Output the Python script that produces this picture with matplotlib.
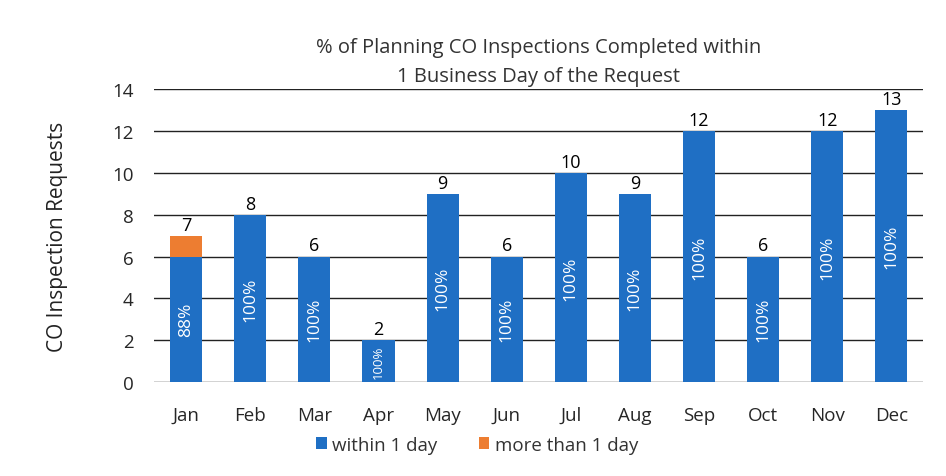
import matplotlib.pyplot as plt
import numpy as np

months = ["Jan", "Feb", "Mar", "Apr", "May", "Jun", "Jul", "Aug", "Sep", "Oct", "Nov", "Dec"]
within_1_day = [6, 8, 6, 2, 9, 6, 10, 9, 12, 6, 12, 13]
more_than_1_day = [1, 0, 0, 0, 0, 0, 0, 0, 0, 0, 0, 0]
pct_labels = ["88%", "100%", "100%", "100%", "100%", "100%", "100%", "100%", "100%", "100%", "100%", "100%"]

plt.rcParams['font.family'] = ['Open Sans', 'DejaVu Sans']

blue = "#1f6fc4"
orange = "#ed7d31"

fig = plt.figure(figsize=(9.46, 4.77), dpi=100)
ax = fig.add_axes([0.163, 0.197, 0.813, 0.614])

x = np.arange(len(months))
totals = [a + b for a, b in zip(within_1_day, more_than_1_day)]

ax.bar(x, within_1_day, width=0.5, color=blue, label="within 1 day", zorder=3)
ax.bar(x, more_than_1_day, width=0.5, bottom=within_1_day, color=orange,
       label="more than 1 day", zorder=3)

for i in range(len(months)):
    ax.text(x[i], totals[i] + 0.1, str(totals[i]), ha='center', va='bottom', fontsize=13, color='black')
    fs = 12.5 if within_1_day[i] > 2 else 9.5
    ax.text(x[i], within_1_day[i] / 2, pct_labels[i], ha='center', va='center', rotation=90,
            fontsize=fs, color='white', zorder=4)

ax.set_xlim(-0.5, 11.5)
ax.set_ylim(0, 14)
ax.set_yticks(range(0, 15, 2))
ax.set_xticks(x)
ax.set_xticklabels(months)
ax.tick_params(axis='both', length=0, labelsize=13.5, colors='#262626')
ax.tick_params(axis='y', pad=15)
ax.tick_params(axis='x', pad=17)
ax.yaxis.grid(True, color='#222222', linewidth=1)
ax.set_axisbelow(True)
for s in ax.spines.values():
    s.set_visible(False)

ax.set_ylabel("CO Inspection Requests", fontsize=15, color='#222222')
ax.yaxis.set_label_coords(-0.112, 0.5)
ax.set_title("% of Planning CO Inspections Completed within\n1 Business Day of the Request",
             fontsize=14.5, color='#333333', pad=6, linespacing=1.6)

ax.legend(loc='upper center', bbox_to_anchor=(0.42, -0.125), ncol=2, frameon=False,
          fontsize=13.5, handlelength=0.55, handleheight=0.55, columnspacing=2.2, handletextpad=0.3,
          labelcolor='#333333')

fig.savefig("out.png", dpi=100, facecolor='white')
